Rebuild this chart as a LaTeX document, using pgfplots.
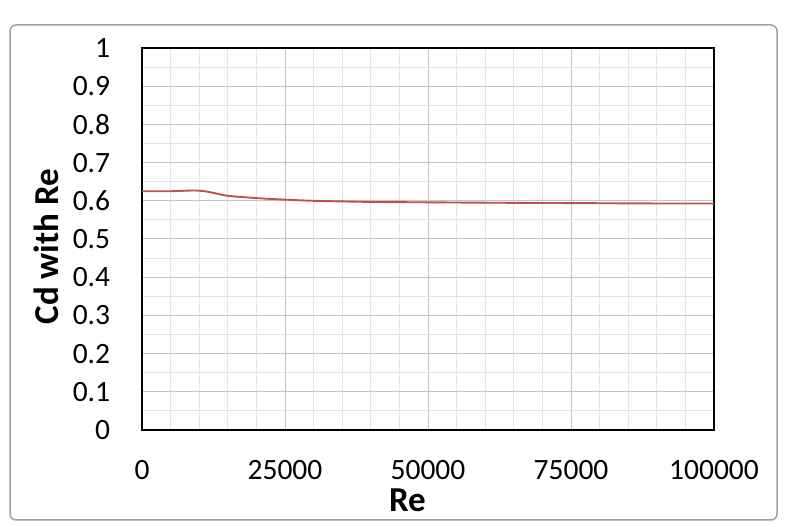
\documentclass[border=0pt]{standalone}
\usepackage{fontspec}
\setmainfont{Carlito}
\usepackage{pgfplots}
\pgfplotsset{compat=1.18}
\definecolor{majgrid}{HTML}{C4C4C4}
\definecolor{mingrid}{HTML}{DCE6F2}
\definecolor{linered}{HTML}{C0504D}
\begin{document}
\fontsize{29bp}{34bp}\selectfont
\begin{tikzpicture}[x=1bp,y=1bp]
\path[use as bounding box] (0,0) rectangle (793,527);
\draw[gray!75, line width=1.5bp, rounded corners=6bp] (10,7) rectangle (777,502);
\begin{axis}[
  at={(142bp,97bp)}, anchor=south west,
  scale only axis, width=572bp, height=382bp,
  xmin=0, xmax=100000, ymin=0, ymax=1,
  xtick={0,25000,50000,75000,100000},
  ytick={0,0.1,...,1},
  minor x tick num=4, minor y tick num=1,
  grid=both,
  major grid style={majgrid, line width=1bp},
  minor grid style={mingrid, line width=0.8bp},
  axis line style={black, line width=1.8bp},
  tick style={draw=none},
  scaled x ticks=false,
  /pgf/number format/assume math mode=true,
  xticklabel={\pgfmathprintnumber[fixed,1000 sep={}]{\tick}},
  yticklabel={\pgfmathprintnumber[fixed,precision=1]{\tick}},
  ticklabel style={font=\fontsize{29.5bp}{34bp}\selectfont},
  xticklabel style={yshift=-20bp},
  yticklabel style={xshift=-22bp},
  xlabel={\textbf{Re}},
  ylabel={\textbf{Cd with Re}},
  xlabel style={font=\fontsize{35bp}{40bp}\selectfont, at={(axis description cs:0.464,-0.183)}, anchor=center},
  ylabel style={font=\fontsize{35bp}{40bp}\selectfont, at={(axis description cs:-0.167,0.48)}, anchor=center},
  clip=false,
]
\addplot[linered, line width=1.9bp, smooth, tension=0.4] coordinates {
(0,0.625) (5000,0.625) (9000,0.627) (11000,0.625) (13000,0.619) (15000,0.613)
(20000,0.607) (25000,0.603) (30000,0.600) (40000,0.597) (50000,0.596)
(60000,0.595) (75000,0.594) (90000,0.593) (100000,0.593)
};
\end{axis}
\end{tikzpicture}
\end{document}
